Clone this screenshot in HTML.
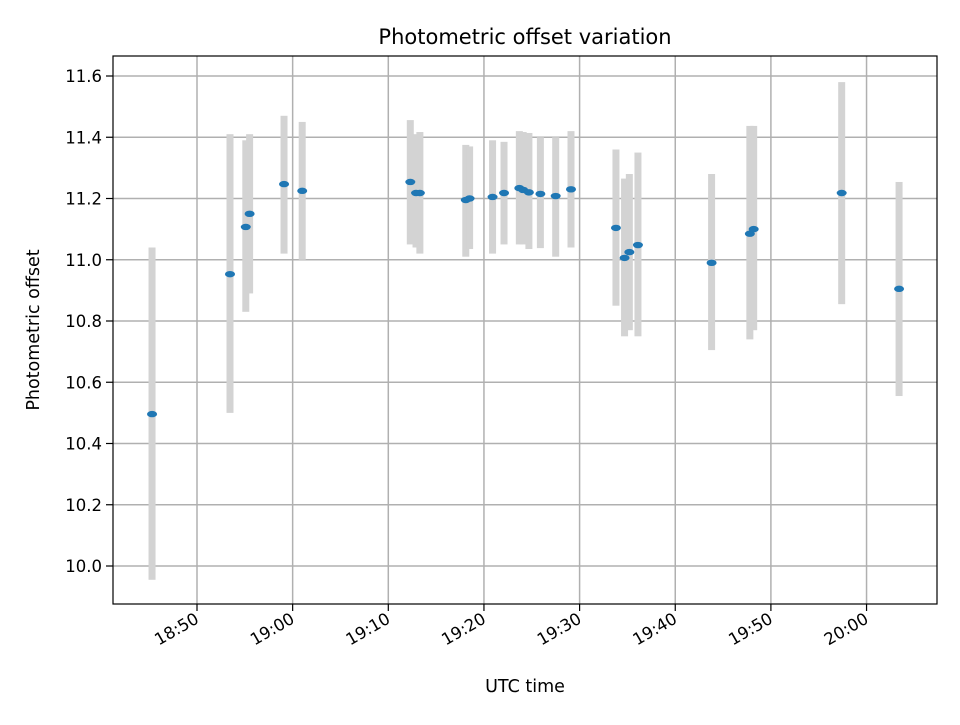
<!DOCTYPE html>
<html><head><meta charset="utf-8"><style>
body{margin:0;background:#fff;}
svg text{font-family:"DejaVu Sans","Liberation Sans",sans-serif;fill:#000;}
</style></head><body>
<svg id="chart" width="960" height="720" xmlns="http://www.w3.org/2000/svg">
<rect width="960" height="720" fill="#fff"/>
<g id="grid"></g>
<g id="errs"></g>
<g id="pts"></g>
<rect x="113" y="56" width="824" height="548" fill="none" stroke="#000" stroke-width="1.2"/>
<g id="ticks"></g>
<text x="525" y="44" text-anchor="middle" font-size="21">Photometric offset variation</text>
<text x="525" y="692" text-anchor="middle" font-size="17.5">UTC time</text>
<text transform="translate(39,330) rotate(-90)" text-anchor="middle" font-size="17.5">Photometric offset</text>
</svg>
<script>
// minutes after 18:00
const times=[45.3,53.45,55.1,55.5,59.1,61.0,72.3,72.9,73.3,78.1,78.5,80.9,82.1,83.7,84.1,84.7,85.9,87.5,89.1,93.8,94.7,95.2,96.1,103.8,107.8,108.2,117.4,123.4];
const offsets=[10.496,10.953,11.107,11.15,11.247,11.225,11.254,11.218,11.218,11.195,11.2,11.205,11.218,11.234,11.228,11.22,11.215,11.208,11.23,11.104,11.006,11.025,11.048,10.99,11.085,11.10,11.218,10.905];
const errTop=[11.04,11.41,11.39,11.41,11.47,11.45,11.456,11.41,11.417,11.375,11.37,11.39,11.385,11.42,11.417,11.414,11.40,11.40,11.42,11.36,11.265,11.28,11.35,11.28,11.437,11.437,11.58,11.254];
const errBottom=[9.955,10.50,10.83,10.89,11.02,11.0,11.05,11.04,11.02,11.01,11.035,11.02,11.05,11.05,11.05,11.035,11.038,11.01,11.04,10.85,10.75,10.77,10.75,10.705,10.74,10.77,10.855,10.555];
const yTicks=[10.0,10.2,10.4,10.6,10.8,11.0,11.2,11.4,11.6];
const xTicks=[50,60,70,80,90,100,110,120];
const xTickLabels=["18:50","19:00","19:10","19:20","19:30","19:40","19:50","20:00"];
const NS="http://www.w3.org/2000/svg";
const xs=m=>197+(m-50)*9.565;
const ys=v=>76+(11.6-v)*306.25;
function mk(t,a,p){const e=document.createElementNS(NS,t);for(const k in a)e.setAttribute(k,a[k]);p.appendChild(e);return e;}
const grid=document.getElementById('grid'),ticks=document.getElementById('ticks');
yTicks.forEach(v=>{const y=ys(v);
 const g=mk('line',{x1:113,x2:937,y1:y,y2:y,stroke:'#b0b0b0','stroke-width':1.5},grid);
 
 
 mk('line',{x1:106,x2:113,y1:y,y2:y,stroke:'#000','stroke-width':1.2},ticks);
 const t=mk('text',{x:102,y:y+6,'text-anchor':'end','font-size':16.5},ticks);t.textContent=v.toFixed(1);
 
 });
xTicks.forEach((m,i)=>{const x=xs(m);
 const g=mk('line',{x1:x,x2:x,y1:56,y2:604,stroke:'#b0b0b0','stroke-width':1.5},grid);
 
 
 mk('line',{x1:x,x2:x,y1:604,y2:611,stroke:'#000','stroke-width':1.2},ticks);
 const t=mk('text',{transform:`translate(${x+3},${622}) rotate(-30)`,'text-anchor':'end','font-size':16.5},ticks);t.textContent=xTickLabels[i];
 
 });
const errs=document.getElementById('errs'),pts=document.getElementById('pts');
times.forEach((m,i)=>{const x=xs(m);
 const b=mk('rect',{x:x-3.5,y:ys(errTop[i]),width:7,height:ys(errBottom[i])-ys(errTop[i]),fill:'#d3d3d3'},errs);
 
 });
times.forEach((m,i)=>{
 const p=mk('ellipse',{cx:xs(m),cy:ys(offsets[i]),rx:5,ry:3.2,fill:'#1f77b4'},pts);
 
 });
</script>
</body></html>
